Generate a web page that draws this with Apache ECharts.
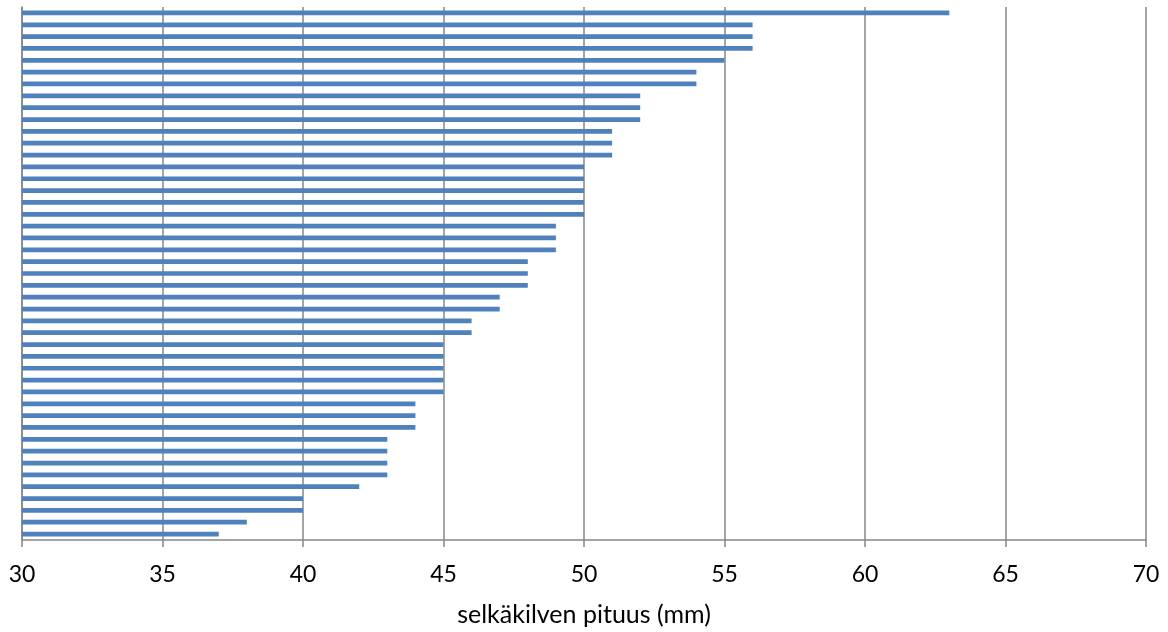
<!DOCTYPE html>
<html>
<head>
<meta charset="utf-8">
<script src="https://cdn.jsdelivr.net/npm/echarts@6/dist/echarts.min.js"></script>
<style>
html,body{margin:0;padding:0;background:#fff;}
#chart{width:1168px;height:632px;}
</style>
</head>
<body>
<div id="chart"></div>
<script>
// Data (top to bottom)
const categories = Array.from({length: 45}, (_, i) => String(i + 1));
const values = [63,56,56,56,55,54,54,52,52,52,51,51,51,50,50,50,50,50,49,49,49,48,48,48,47,47,46,46,45,45,45,45,45,44,44,44,43,43,43,43,42,40,40,38,37];
const xTicks = [30,35,40,45,50,55,60,65,70];
const xAxisTitle = 'selkäkilven pituus (mm)';

const gridColor = '#878787';
const chart = echarts.init(document.getElementById('chart'), null, {renderer: 'canvas'});
chart.setOption({
  animation: false,
  backgroundColor: '#ffffff',
  grid: {left: 22, right: 22, top: 7, bottom: 90, containLabel: false},
  xAxis: {
    type: 'value',
    min: xTicks[0],
    max: xTicks[xTicks.length - 1],
    interval: 5,
    name: xAxisTitle,
    nameLocation: 'middle',
    nameGap: 62,
    nameTextStyle: {fontFamily: 'Lato', fontSize: 25, color: '#000'},
    axisLine: {show: true, lineStyle: {color: gridColor, width: 1.5}},
    axisTick: {show: true, inside: false, length: 7, lineStyle: {color: gridColor, width: 1.5}},
    axisLabel: {fontFamily: 'Lato', fontSize: 23, color: '#000', margin: 23},
    splitLine: {show: true, lineStyle: {color: gridColor, width: 1.5}}
  },
  yAxis: {
    type: 'category',
    data: categories,
    inverse: true,
    axisLine: {show: true, lineStyle: {color: gridColor, width: 1.5}},
    axisTick: {show: false},
    axisLabel: {show: false},
    splitLine: {show: false}
  },
  series: [{
    type: 'bar',
    data: values,
    barWidth: '40%',
    itemStyle: {color: '#4F81BD'}
  }]
});
</script>
</body>
</html>
